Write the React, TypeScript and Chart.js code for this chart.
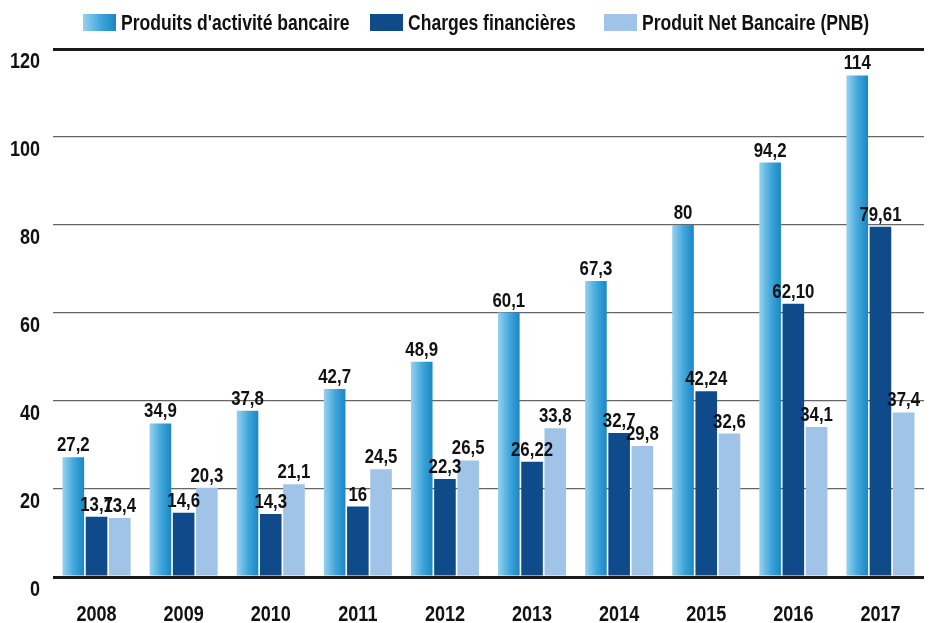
import React, { useEffect, useRef } from "react";
import { Chart, registerables } from "chart.js";

Chart.register(...registerables);

const years = ["2008", "2009", "2010", "2011", "2012", "2013", "2014", "2015", "2016", "2017"];
const seriesNames = ["Produits d'activité bancaire", "Charges financières", "Produit Net Bancaire (PNB)"];
const produitsLabels = ["27,2", "34,9", "37,8", "42,7", "48,9", "60,1", "67,3", "80", "94,2", "114"];
const chargesLabels = ["13,7", "14,6", "14,3", "16", "22,3", "26,22", "32,7", "42,24", "62,10", "79,61"];
const pnbLabels = ["13,4", "20,3", "21,1", "24,5", "26,5", "33,8", "29,8", "32,6", "34,1", "37,4"];
const yTicks = [0, 20, 40, 60, 80, 100, 120];

const toNum = (s: string) => parseFloat(s.replace(",", "."));
const labelSets = [produitsLabels, chargesLabels, pnbLabels];

const FONT = "'Liberation Sans', Arial, sans-serif";
const SX = 0.82;
const C_CHARGES = "#0f4b8b";
const C_PNB = "#a0c4e8";
const CAT_PCT = 0.8;
const BAR_PCT = 0.93;

function makeGrad(ctx: CanvasRenderingContext2D, x0: number, x1: number) {
  const g = ctx.createLinearGradient(x0, 0, x1, 0);
  g.addColorStop(0, "#95d2f0");
  g.addColorStop(0.55, "#3fa5da");
  g.addColorStop(1, "#1a87c5");
  return g;
}

function gradFor(chart: any, dsIndex: number, dataIndex: number) {
  const xs = chart.scales?.x;
  if (!xs) return "#3aa2d8";
  const center = xs.getPixelForValue(dataIndex);
  const catW = xs.width / years.length;
  if (!isFinite(center) || !isFinite(catW) || catW <= 0) return "#3aa2d8";
  const slot = (catW * CAT_PCT) / 3;
  const bc = center + (dsIndex - 1) * slot;
  const w = slot * BAR_PCT;
  return makeGrad(chart.ctx, bc - w / 2, bc + w / 2);
}

function drawText(
  ctx: CanvasRenderingContext2D,
  text: string,
  x: number,
  y: number,
  size: number,
  sx: number,
  align: CanvasTextAlign
) {
  ctx.save();
  ctx.font = `bold ${size}px ${FONT}`;
  ctx.fillStyle = "#111";
  ctx.textAlign = align;
  ctx.textBaseline = "alphabetic";
  ctx.translate(x, y);
  ctx.scale(sx, 1);
  ctx.fillText(text, 0, 0);
  ctx.restore();
}

const legendBoxX = [83, 370, 604];
const legendPlugin = {
  id: "customLegend",
  afterDraw(chart: any) {
    const ctx = chart.ctx as CanvasRenderingContext2D;
    const boxW = 33, boxH = 17, top = 14;
    const fills = [null, C_CHARGES, C_PNB];
    seriesNames.forEach((n, i) => {
      const x = legendBoxX[i];
      ctx.save();
      ctx.fillStyle = i === 0 ? makeGrad(ctx, x, x + boxW) : (fills[i] as string);
      ctx.fillRect(x, top, boxW, boxH);
      ctx.restore();
      drawText(ctx, n, x + boxW + 5, 30, 22.5, 0.78, "left");
    });
  },
};

const textPlugin = {
  id: "texts",
  afterDatasetsDraw(chart: any) {
    const ctx = chart.ctx as CanvasRenderingContext2D;
    chart.data.datasets.forEach((ds: any, di: number) => {
      const meta = chart.getDatasetMeta(di);
      meta.data.forEach((el: any, i: number) => {
        drawText(ctx, labelSets[di][i], el.x, el.y - 6, 20.5, SX, "center");
      });
    });
    const ys = chart.scales.y;
    yTicks.forEach((v) => {
      drawText(ctx, String(v), 40, ys.getPixelForValue(v) + 18.5, 22, SX, "right");
    });
    const xs = chart.scales.x;
    years.forEach((y, i) => {
      drawText(ctx, y, xs.getPixelForValue(i), 621, 22, SX, "center");
    });
  },
};

export default function App() {
  const ref = useRef<HTMLCanvasElement>(null);
  useEffect(() => {
    document.body.style.margin = "0";
    const chart = new Chart(ref.current!, {
      type: "bar",
      data: {
        labels: years,
        datasets: [
          {
            label: seriesNames[0],
            data: produitsLabels.map(toNum),
            backgroundColor: (c: any) => gradFor(c.chart, 0, c.dataIndex),
          },
          { label: seriesNames[1], data: chargesLabels.map(toNum), backgroundColor: C_CHARGES },
          { label: seriesNames[2], data: pnbLabels.map(toNum), backgroundColor: C_PNB },
        ],
      },
      options: {
        animation: false,
        responsive: false,
        maintainAspectRatio: false,
        datasets: { bar: { categoryPercentage: CAT_PCT, barPercentage: BAR_PCT } },
        layout: { padding: { top: 49, right: 8, left: 0, bottom: 0 } },
        plugins: { legend: { display: false }, tooltip: { enabled: false } },
        scales: {
          x: {
            grid: { display: false },
            border: { display: false },
            ticks: { display: false },
            afterFit: (s: any) => { s.height = 46; },
          },
          y: {
            min: 0,
            max: 120,
            afterBuildTicks: (s: any) => { s.ticks = yTicks.map((v) => ({ value: v })); },
            grid: {
              drawTicks: false,
              color: (c: any) => (c.tick && (c.tick.value === 0 || c.tick.value === 120) ? "#1a1a1a" : "#666"),
              lineWidth: (c: any) => (c.tick && (c.tick.value === 0 || c.tick.value === 120) ? 3 : 1.3),
            },
            border: { display: false },
            ticks: { display: false },
            afterFit: (s: any) => { s.width = 53; },
          },
        },
      },
      plugins: [legendPlugin, textPlugin],
    } as any);
    return () => chart.destroy();
  }, []);
  return <canvas ref={ref} width={932} height={623} style={{ display: "block" }} />;
}
